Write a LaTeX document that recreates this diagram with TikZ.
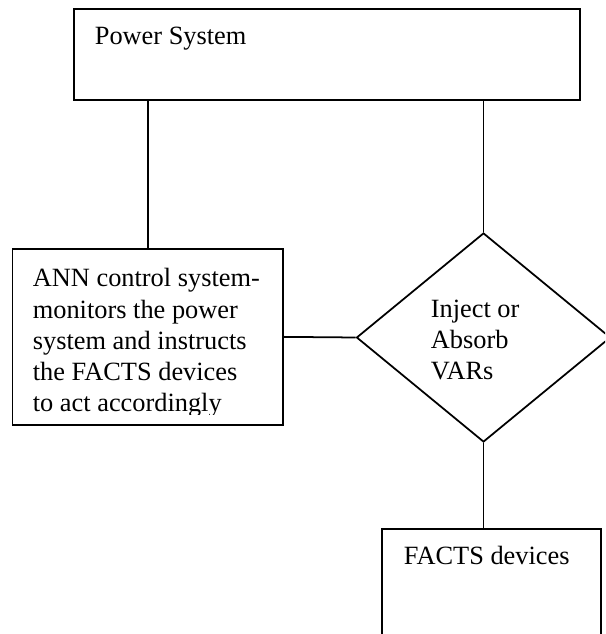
\documentclass[tikz,border=0pt]{standalone}
\usepackage{fontspec}
\setmainfont{Liberation Serif}
\usetikzlibrary{positioning,shapes.geometric}

\tikzset{
  blk/.style={draw,line width=1pt,inner sep=0pt,anchor=north west},
  txt/.style={anchor=base west,inner sep=0pt,align=left,font=\fontsize{15}{17.8}\selectfont},
}

\begin{document}
\begin{tikzpicture}[line width=1pt]
  \useasboundingbox (0,0) rectangle (12.1,12.68);
  \clip (0,0) rectangle (12.1,12.68);
  % boxes
  \node[blk,minimum width=10.12cm,minimum height=1.82cm] (power) at (1.46,12.52) {};
  \node[txt] (powertxt) at (1.88,11.78) {Power System};
  \node[blk,minimum width=5.41cm,minimum height=3.52cm] (ann) at (0.23,7.72) {};
  \begin{scope}
    \clip (0.23,4.38) rectangle (5.64,7.72);
    \node[txt] (anntxt) at (0.64,4.44) {ANN control system-\\monitors the power\\system and instructs\\the FACTS devices\\to act accordingly};
  \end{scope}
  \node[draw,diamond,inner sep=0pt,minimum width=5.08cm,minimum height=4.18cm] (dec) at (9.67,5.93) {};
  \node[txt] (dectxt) at (8.60,5.08) {Inject or\\Absorb\\VARs};
  \node[blk,minimum width=4.38cm,minimum height=2.6cm] (facts) at (7.62,2.12) {};
  \node[txt] (factstxt) at (8.06,1.38) {FACTS devices};
  % connectors
  \draw (ann.north) -- (ann.north |- power.south);
  \draw (dec.north) -- (dec.north |- power.south);
  \draw (ann.east) -- (dec.west);
  \draw (dec.south) -- (dec.south |- facts.north);
\end{tikzpicture}
\end{document}
